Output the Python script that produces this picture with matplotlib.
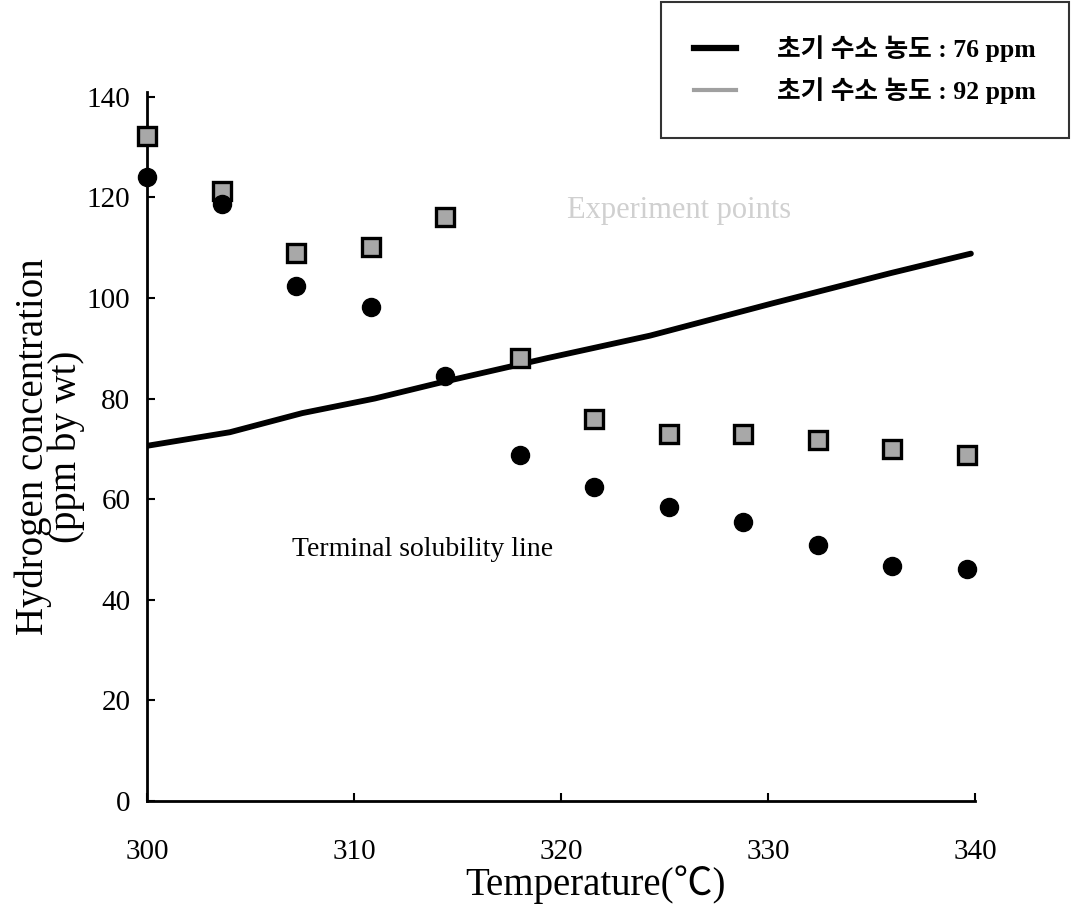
import matplotlib
matplotlib.use('Agg')
import matplotlib.pyplot as plt
from matplotlib.lines import Line2D
import numpy as np

plt.rcParams['font.family'] = ['Liberation Serif', 'Noto Sans CJK KR', 'DejaVu Sans']

# measured points
temp = [300, 303.6, 307.2, 310.8, 314.4, 318, 321.6, 325.2, 328.8, 332.4, 336, 339.6]
h_76 = [124.1, 118.6, 102.3, 98.1, 84.4, 68.7, 62.4, 58.4, 55.4, 50.8, 46.7, 46.1]
h_92 = [132.1, 121.2, 109.0, 110.2, 116.0, 88.0, 75.9, 72.9, 72.9, 71.7, 69.9, 68.7]

# terminal solubility line
tsl_t = [300, 304, 307.5, 311, 314.2, 319.3, 324.3, 330.2, 335.9, 339.8]
tsl_h = [70.6, 73.3, 77.1, 80.0, 83.2, 88.0, 92.5, 98.9, 104.9, 108.8]

legend_labels = ['초기 수소 농도 : 76 ppm', '초기 수소 농도 : 92 ppm']

fig = plt.figure(figsize=(10.71, 9.16), dpi=100)
ax = fig.add_axes([0.1373, 0.1255, 0.7731, 0.7745])

ax.plot(tsl_t, tsl_h, color='black', lw=4.2, solid_capstyle='round', zorder=2)
ax.plot(temp, h_92, ls='none', marker='s', ms=13, mfc='#a8a8a8', mec='black',
        mew=2.4, clip_on=False, zorder=3)
ax.plot(temp, h_76, ls='none', marker='o', ms=13, mfc='black', mec='black',
        clip_on=False, zorder=4)

ax.set_xlim(300, 340)
ax.set_ylim(0, 141)
ax.set_xticks([300, 310, 320, 330, 340])
ax.set_yticks(np.arange(0, 141, 20))
ax.tick_params(direction='in', length=6, width=1.5, labelsize=21)
ax.tick_params(axis='x', pad=27)
ax.tick_params(axis='y', pad=12)
for s in ['top', 'right']:
    ax.spines[s].set_visible(False)
for s in ['left', 'bottom']:
    ax.spines[s].set_linewidth(2)

ax.set_xlabel('Temperature(℃)', fontsize=28)
ax.xaxis.set_label_coords(0.542, -0.09)
ax.set_ylabel('Hydrogen concentration\n(ppm by wt)', fontsize=28, labelpad=1,
              linespacing=0.85)

ax.text(313.3, 50, 'Terminal solubility line', fontsize=20, ha='center',
        va='center')
ax.text(325.7, 117.3, 'Experiment points', fontsize=22, ha='center',
        va='center', color='#d0d0d0')

handles = [Line2D([], [], color='black', lw=4.5),
           Line2D([], [], color='#a0a0a0', lw=3)]
leg = fig.legend(handles, legend_labels, loc='upper right',
                 bbox_to_anchor=(0.998, 0.998), fontsize=18.5, frameon=True,
                 fancybox=False, edgecolor='black', handlelength=1.6,
                 handletextpad=1.6, borderpad=1.3, labelspacing=0.6,
                 borderaxespad=0)
leg.get_frame().set_linewidth(1.5)
for t in leg.get_texts():
    t.set_fontweight('bold')

fig.savefig('out.png', dpi=100)
